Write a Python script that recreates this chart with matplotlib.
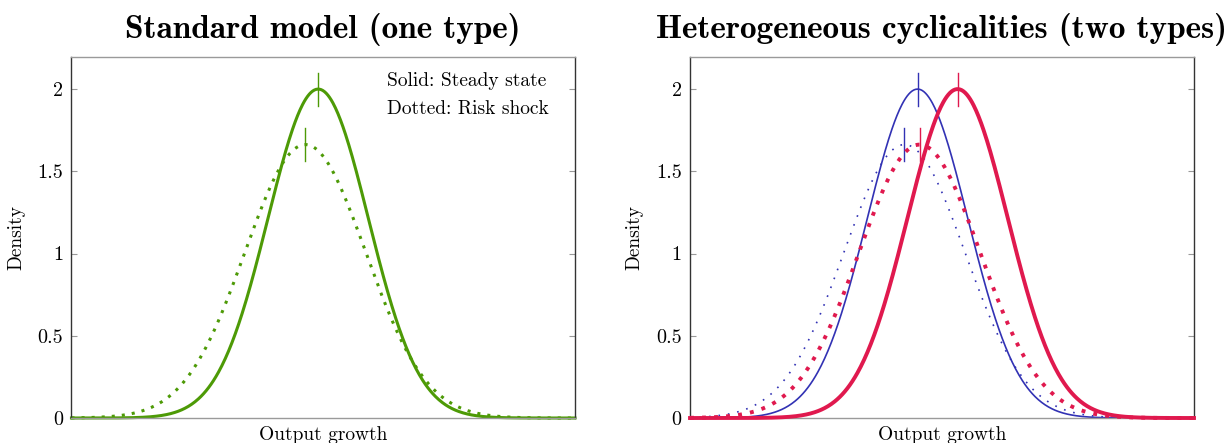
import numpy as np
import matplotlib
matplotlib.use("Agg")
import matplotlib.pyplot as plt

# Densities are normal curves; parameters.
# (mean, sd) on an output-growth axis running from -1 to 1
x_range = [-1.0, 1.0]

one_type_mean = {"steady": -0.020, "shock": -0.071}
one_type_sd = {"steady": 0.1995, "shock": 0.240}

blue_mean = {"steady": -0.097, "shock": -0.149}
blue_sd = {"steady": 0.1995, "shock": 0.240}
red_mean = {"steady": 0.062, "shock": -0.089}
red_sd = {"steady": 0.1995, "shock": 0.240}

y_ticks = [0, 0.5, 1, 1.5, 2]
y_tick_labels = ["0", "0.5", "1", "1.5", "2"]

titles = ["Standard model (one type)", "Heterogeneous cyclicalities (two types)"]
note_lines = ["Solid: Steady state", "Dotted: Risk shock"]

green = "#4d9a06"
blue = "#3232b4"
red = "#e0194e"


def normal_pdf(x, mu, sd):
    return np.exp(-0.5 * ((x - mu) / sd) ** 2) / (sd * np.sqrt(2 * np.pi))


def draw_curve(ax, x, mu, sd, color, lw, dotted=False, gap=2.3, z=2):
    y = normal_pdf(x, mu, sd)
    if dotted:
        ax.plot(x, y, color=color, lw=lw, linestyle=(0, (1, gap)),
                dash_capstyle="butt", zorder=z, clip_on=False)
    else:
        ax.plot(x, y, color=color, lw=lw, zorder=z, clip_on=False)
    peak = normal_pdf(mu, mu, sd)
    # small vertical marker at the mean
    ax.plot([mu, mu], [peak - 0.1, peak + 0.1], color=color, lw=1.0, zorder=z + 1)


def style_axes(ax, title):
    ax.set_xlim(*x_range)
    ax.set_ylim(0, 2.195)
    ax.set_xticks([])
    ax.set_yticks(y_ticks)
    ax.set_yticklabels(y_tick_labels)
    ax.tick_params(axis="y", direction="in", length=4, color="#999999",
                   right=True, labelsize=14.5, pad=6)
    for s in ["top", "bottom"]:
        ax.spines[s].set_color("#9a9a9a")
    for s in ["left", "right"]:
        ax.spines[s].set_color("#333333")
    for s in ax.spines.values():
        s.set_linewidth(1.0)
    ax.set_xlabel("Output growth", fontsize=14, labelpad=6)
    ax.set_ylabel("Density", fontsize=14, labelpad=9)
    ax.set_title(title, fontsize=24, fontfamily="cmb10", pad=14)


plt.rcParams["font.family"] = "cmr10"
plt.rcParams["axes.formatter.use_mathtext"] = True

fig = plt.figure(figsize=(12.28, 4.43), dpi=100)
ax1 = fig.add_axes([0.0582, 0.0564, 0.410, 0.815])
ax2 = fig.add_axes([0.5619, 0.0564, 0.4104, 0.815])

xs = np.linspace(x_range[0], x_range[1], 600)

# left: one type
draw_curve(ax1, xs, one_type_mean["steady"], one_type_sd["steady"], green, 2.2)
draw_curve(ax1, xs, one_type_mean["shock"], one_type_sd["shock"], green, 2.2,
           dotted=True, gap=2.3)
style_axes(ax1, titles[0])
ax1.text(0.627, 0.933, note_lines[0], transform=ax1.transAxes, fontsize=14,
         va="center", ha="left")
ax1.text(0.627, 0.856, note_lines[1], transform=ax1.transAxes, fontsize=14,
         va="center", ha="left")

# right: two types
draw_curve(ax2, xs, blue_mean["steady"], blue_sd["steady"], blue, 1.2, z=2)
draw_curve(ax2, xs, blue_mean["shock"], blue_sd["shock"], blue, 1.2,
           dotted=True, gap=4.7, z=2)
draw_curve(ax2, xs, red_mean["steady"], red_sd["steady"], red, 2.8, z=4)
draw_curve(ax2, xs, red_mean["shock"], red_sd["shock"], red, 2.8,
           dotted=True, gap=2.1, z=4)
style_axes(ax2, titles[1])

fig.savefig("out.png", dpi=100)
